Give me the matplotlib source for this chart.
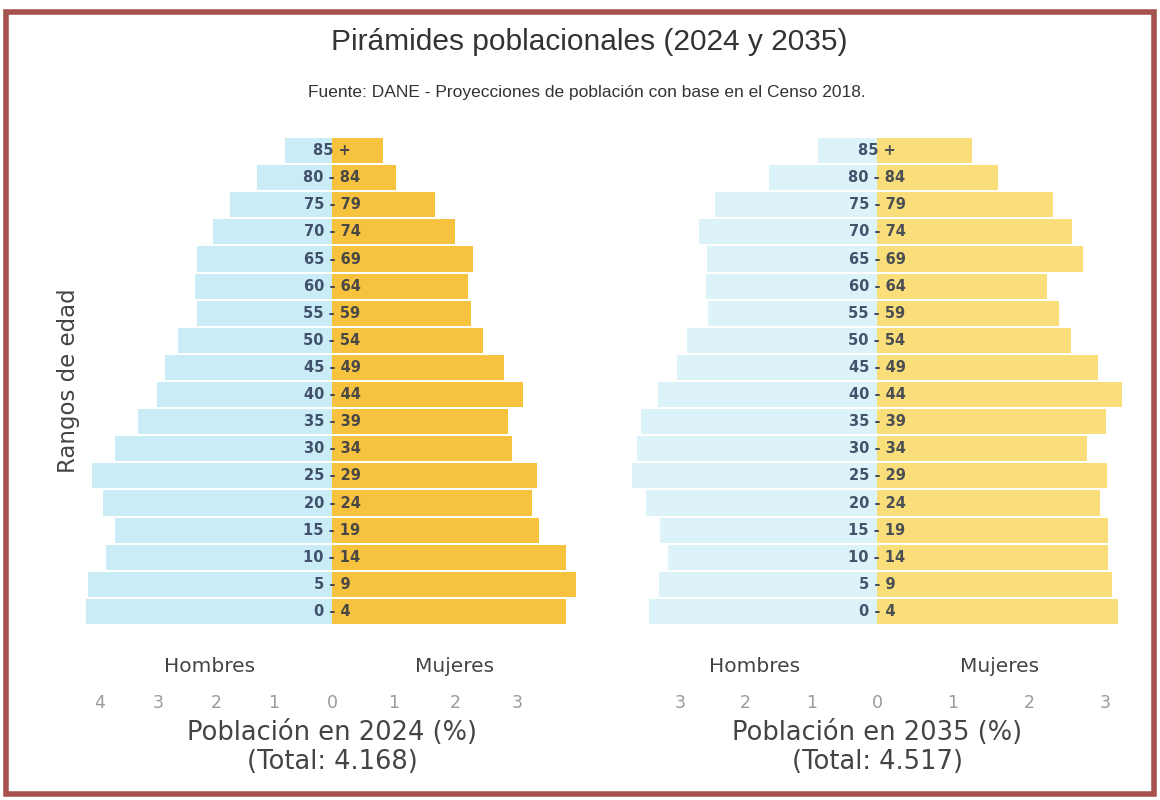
import numpy as np
import matplotlib.pyplot as plt
from matplotlib.patches import Rectangle

# age groups, bottom to top
ages = ['0 - 4', '5 - 9', '10 - 14', '15 - 19', '20 - 24', '25 - 29', '30 - 34',
        '35 - 39', '40 - 44', '45 - 49', '50 - 54', '55 - 59', '60 - 64',
        '65 - 69', '70 - 74', '75 - 79', '80 - 84', '85 +']

# population share (%)
men_2024 = [4.24, 4.21, 3.90, 3.74, 3.95, 4.14, 3.74, 3.34, 3.02, 2.88, 2.66,
            2.33, 2.36, 2.33, 2.05, 1.76, 1.29, 0.81]
women_2024 = [3.79, 3.96, 3.79, 3.36, 3.24, 3.32, 2.91, 2.85, 3.09, 2.79, 2.45,
              2.25, 2.20, 2.29, 1.99, 1.67, 1.04, 0.83]
men_2035 = [3.47, 3.32, 3.18, 3.30, 3.52, 3.73, 3.65, 3.59, 3.33, 3.04, 2.89,
            2.57, 2.60, 2.59, 2.71, 2.47, 1.64, 0.90]
women_2035 = [3.17, 3.09, 3.04, 3.04, 2.93, 3.03, 2.76, 3.01, 3.22, 2.91, 2.55,
              2.39, 2.24, 2.71, 2.57, 2.32, 1.59, 1.25]

ticks_2024 = [-4, -3, -2, -1, 0, 1, 2, 3]
ticks_2035 = [-3, -2, -1, 0, 1, 2, 3]
totals = ['4.168', '4.517']
years = ['2024', '2035']

W, H = 1160, 800


def px_rect(x0, y0, x1, y1):
    return [x0 / W, 1 - y1 / H, (x1 - x0) / W, (y1 - y0) / H]


def split_scale(kl, kr):
    # the scanned chart is stretched differently on each side of zero
    def fwd(x):
        x = np.asarray(x, dtype=float)
        return np.where(x < 0, x * kl, x * kr)

    def inv(y):
        y = np.asarray(y, dtype=float)
        return np.where(y < 0, y / kl, y / kr)
    return fwd, inv


def pyramid(ax, men, women, ticks, kl, kr, xlim, c_men, c_women, year, total):
    y = np.arange(len(ages))
    ax.set_xscale('function', functions=split_scale(kl, kr))
    ax.barh(y, -np.array(men), height=0.93, color=c_men, linewidth=0)
    ax.barh(y, women, height=0.93, color=c_women, linewidth=0)
    for yy, lab in zip(y, ages):
        ax.text(0, yy, lab, ha='center', va='center', fontsize=10.5,
                fontweight='bold', color='#1f2a48', alpha=0.8)
    ax.set_xlim(*xlim)
    ax.set_ylim(-0.5, len(ages) - 0.5)
    ax.set_yticks([])
    ax.set_xticks(ticks)
    ax.set_xticklabels([str(abs(t)) for t in ticks])
    ax.tick_params(axis='x', length=0, pad=50, labelsize=12.5, labelcolor='#9a9a9a')
    for s in ax.spines.values():
        s.set_visible(False)
    xy = (0, 0)
    xc = ('data', 'axes fraction')
    ax.annotate('Hombres', xy=xy, xycoords=xc, xytext=(-122, -42),
                textcoords='offset pixels', ha='center', va='center',
                fontsize=14.5, color='#444444')
    ax.annotate('Mujeres', xy=xy, xycoords=xc, xytext=(123, -42),
                textcoords='offset pixels', ha='center', va='center',
                fontsize=14.5, color='#444444')
    ax.annotate('Población en {} (%)'.format(year), xy=xy, xycoords=xc,
                xytext=(0, -108), textcoords='offset pixels', ha='center',
                va='center', fontsize=18.5, color='#444444')
    ax.annotate('(Total: {})'.format(total), xy=xy, xycoords=xc,
                xytext=(0, -137), textcoords='offset pixels', ha='center',
                va='center', fontsize=18.5, color='#444444')


fig = plt.figure(figsize=(W / 100, H / 100), dpi=100)

ax1 = fig.add_axes(px_rect(80, 137, 590, 625))
pyramid(ax1, men_2024, women_2024, ticks_2024, 58, 61.7,
        ((80 - 332) / 58, (590 - 332) / 61.7), '#c9ecf6', '#f7c23e',
        years[0], totals[0])

ax2 = fig.add_axes(px_rect(620, 137, 1140, 625))
pyramid(ax2, men_2035, women_2035, ticks_2035, 65.7, 76,
        ((620 - 877) / 65.7, (1140 - 877) / 76), '#dcf3fa', '#f9de7a',
        years[1], totals[1])

fig.text(589 / W, 1 - 42 / H, 'Pirámides poblacionales (2024 y 2035)',
         ha='center', va='center', fontsize=21.5,
         family='Liberation Sans', color='#333333')
fig.text(587 / W, 1 - 93 / H,
         'Fuente: DANE - Proyecciones de población con base en el Censo 2018.',
         ha='center', va='center', fontsize=12.5,
         family='Liberation Sans', color='#333333')
fig.text(68 / W, 1 - 381 / H, 'Rangos de edad', rotation=90, ha='center',
         va='center', fontsize=16.5, color='#444444')

fig.patches.append(Rectangle((6 / W, 6 / H), 1148 / W, 782 / H,
                             transform=fig.transFigure, fill=False,
                             edgecolor='#a5524e', linewidth=4))

fig.savefig('out.png', dpi=100)
